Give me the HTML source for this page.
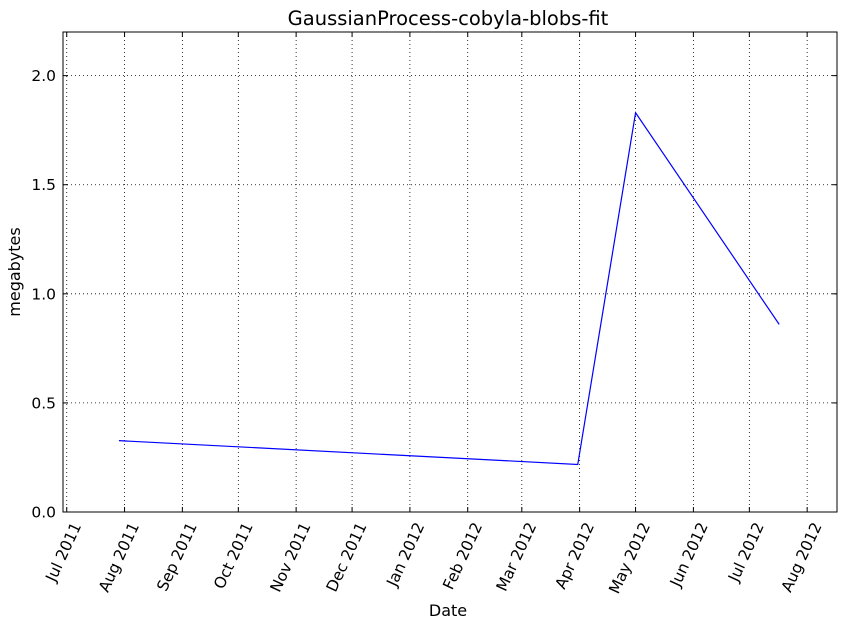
<!DOCTYPE html>
<html><head><meta charset="utf-8"><style>
body{margin:0;background:#fff}
svg text{font-family:"DejaVu Sans","Liberation Sans",sans-serif;fill:#000}
</style></head><body>
<svg id="chart" width="846" height="626" xmlns="http://www.w3.org/2000/svg">
<rect width="846" height="626" fill="#fff"/>
<text x="448" y="25" font-size="19.5" text-anchor="middle">GaussianProcess-cobyla-blobs-fit</text>
<text x="448" y="616" font-size="16" text-anchor="middle">Date</text>
<text x="20" y="272" font-size="16" text-anchor="middle" transform="rotate(-90 20 272)">megabytes</text>
<g id="grid"></g><g id="ticks"></g><g id="series"></g>
<rect x="63" y="32" width="774" height="480" fill="none" stroke="#000" stroke-width="1"/>
</svg>
<script>
const dates = ["2011-07-29","2012-03-31","2012-05-01","2012-07-17"];
const values = [0.327, 0.218, 1.83, 0.86];
const xTickDates = ["2011-07-01","2011-08-01","2011-09-01","2011-10-01","2011-11-01","2011-12-01","2012-01-01","2012-02-01","2012-03-01","2012-04-01","2012-05-01","2012-06-01","2012-07-01","2012-08-01"];
const xTickLabels = ["Jul 2011","Aug 2011","Sep 2011","Oct 2011","Nov 2011","Dec 2011","Jan 2012","Feb 2012","Mar 2012","Apr 2012","May 2012","Jun 2012","Jul 2012","Aug 2012"];
const yTicks = [0,0.5,1.0,1.5,2.0];
const yTickLabels = ["0.0","0.5","1.0","1.5","2.0"];

const NS="http://www.w3.org/2000/svg";
const L=63,R=837,T=32,B=512;
const t0=Date.parse("2011-06-29"),t1=Date.parse("2012-08-17");
const x=d=>L+(Date.parse(d)-t0)/(t1-t0)*(R-L);
const y=v=>B-v/2.2*(B-T);
function mk(tag,attrs,parent){const e=document.createElementNS(NS,tag);for(const k in attrs)e.setAttribute(k,attrs[k]);document.getElementById(parent).appendChild(e);return e;}
xTickDates.forEach((d,i)=>{
  const px=x(d);
  const g=mk("line",{x1:px,x2:px,y1:T,y2:B,stroke:"#000","stroke-dasharray":"1,3","stroke-width":0.8},"grid");
  
  
  mk("line",{x1:px,x2:px,y1:B,y2:B-5,stroke:"#000"},"ticks");
  mk("line",{x1:px,x2:px,y1:T,y2:T+5,stroke:"#000"},"ticks");
  const t=mk("text",{x:px+5,y:B+9,"font-size":15.5,"text-anchor":"end",transform:`rotate(-65 ${px+5} ${B+9})`,dy:"0.7em"},"ticks");
  t.textContent=xTickLabels[i];
  
  
});
yTicks.forEach((v,i)=>{
  const py=y(v);
  const g=mk("line",{x1:L,x2:R,y1:py,y2:py,stroke:"#000","stroke-dasharray":"1,3","stroke-width":0.8},"grid");
  
  
  mk("line",{x1:L,x2:L+5,y1:py,y2:py,stroke:"#000"},"ticks");
  mk("line",{x1:R,x2:R-5,y1:py,y2:py,stroke:"#000"},"ticks");
  const t=mk("text",{x:L-7,y:py+5.5,"font-size":15.5,"text-anchor":"end"},"ticks");
  t.textContent=yTickLabels[i];
  
  
});
const pts=dates.map((d,i)=>x(d)+","+y(values[i])).join(" ");
const line=mk("polyline",{points:pts,fill:"none",stroke:"#0000ff","stroke-width":1.2},"series");


</script>
</body></html>
